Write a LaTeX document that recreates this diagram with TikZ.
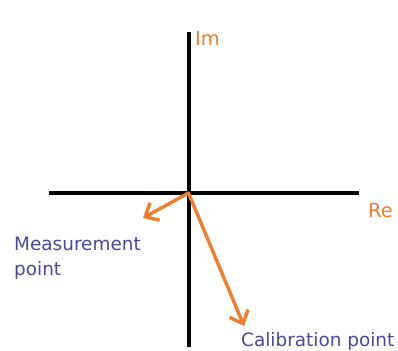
\documentclass[tikz,border=0pt]{standalone}
\usepackage{fontspec}
\setmainfont{DejaVu Sans}
\usetikzlibrary{arrows.meta}
\definecolor{vorange}{RGB}{237,125,49}
\definecolor{vblue}{RGB}{72,72,150}
\tikzset{
  axis/.style={line width=4bp, black},
  vec/.style={line width=3.4bp, vorange, line cap=round, -{Straight Barb[length=11bp,width=20bp,line width=3.4bp]}},
  axlabel/.style={text=vorange, font=\fontsize{19.5}{22}\selectfont, inner sep=0pt, anchor=base west},
  ptlabel/.style={text=vblue, font=\fontsize{18.5}{25}\selectfont, inner sep=0pt, anchor=base west, align=left}
}
\begin{document}
\begin{tikzpicture}[x=1bp,y=-1bp]
\useasboundingbox (0,0) rectangle (398,351);
\coordinate (O) at (188.5,193);
\coordinate (top) at (188.5,32);
\coordinate (bot) at (188.5,347);
\coordinate (left) at (49,193);
\coordinate (right) at (359,193);
\coordinate (mtip) at (143,218);
\coordinate (ctip) at (244,326);
\draw[axis] (top) -- (bot);
\draw[axis] (left) -- (right);
\draw[vec] (O) -- (mtip);
\draw[vec] (O) -- (ctip);
\node[axlabel] (im) at (195,45) {Im};
\node[axlabel] (re) at (368,217) {Re};
\node[ptlabel] (meas) at (14,275) {Measurement\\point};
\node[ptlabel] (cal) at (241,346) {Calibration point};
\end{tikzpicture}
\end{document}
